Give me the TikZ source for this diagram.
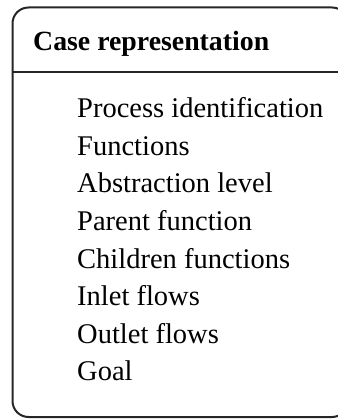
\documentclass[tikz,border=0pt]{standalone}
\usepackage{fontspec}
\setmainfont{Liberation Serif}
\usepackage{tikz}

\begin{document}
\begin{tikzpicture}[x=1pt,y=-1pt,
	every node/.style={anchor=base west,inner sep=0pt,font=\fontsize{28.5}{34}\selectfont},
	frame/.style={line width=2pt,draw=black!85}]

\useasboundingbox (0,0) rectangle (337,419);
\draw[frame,rounded corners=16pt] (12.5,7.5) rectangle (348,417);
\draw[frame] (12.5,72) -- (348,72);

\node[font=\bfseries\fontsize{27.8}{34}\selectfont] (title) at (33,51) {Case representation};

\node (process) at (77,118) {Process identification};
\node (functions) at (77,155.5) {Functions};
\node (abstraction) at (77,193) {Abstraction level};
\node (parent) at (77,230.5) {Parent function};
\node (children) at (77,268) {Children functions};
\node (inlet) at (77,305.5) {Inlet flows};
\node (outlet) at (77,343) {Outlet flows};
\node (goal) at (77,380.5) {Goal};
\end{tikzpicture}
\end{document}
